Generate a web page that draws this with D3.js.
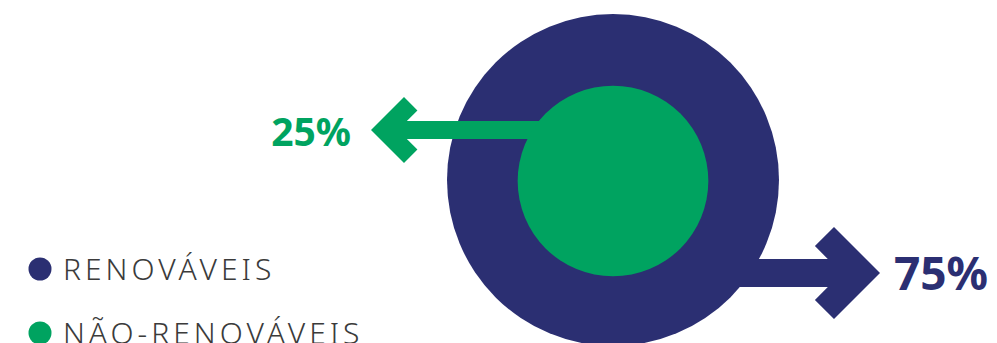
<!DOCTYPE html>
<html>
<head>
<meta charset="utf-8">
<script src="https://cdn.jsdelivr.net/npm/d3@7"></script>
<style>
  body { margin: 0; background: #fff; }
</style>
</head>
<body>
<div id="chart"></div>
<script>
// chart data
var categories = ["RENOVÁVEIS", "NÃO-RENOVÁVEIS"];
var values = [75, 25];
var valueLabels = ["75%", "25%"];
var colors = ["#2b2f72", "#00a360"];

var svgWidth = 997;
var svgHeight = 343;

var svg = d3.select("#chart")
  .append("svg")
  .attr("width", svgWidth)
  .attr("height", svgHeight);

// centre of the nested circles
var cx = 613;
var cy = 180;

// radius from cumulative share (outer = all, inner = non-renewable)
var rScale = d3.scalePow().exponent(0.4)
  .domain([0, d3.sum(values)])
  .range([0, 166]);

// build arrow path: shaft from (x0, y) to tip at (x1, y)
// t = half shaft thickness, h = head size, w = arm width
function arrowPath(x0, x1, y, t, h, w) {
  var dir = x1 > x0 ? -1 : 1; // direction back from tip toward the shaft
  var inner = w * Math.SQRT2 + t;
  var d = w / Math.SQRT2;
  var p = d3.path();
  p.moveTo(x1, y);
  p.lineTo(x1 + dir * h, y - h);
  p.lineTo(x1 + dir * (h + d), y - h + d);
  p.lineTo(x1 + dir * inner, y - t);
  p.lineTo(x0, y - t);
  p.lineTo(x0, y + t);
  p.lineTo(x1 + dir * inner, y + t);
  p.lineTo(x1 + dir * (h + d), y + h - d);
  p.lineTo(x1 + dir * h, y + h);
  p.closePath();
  return p.toString();
}

// outer circle (total)
svg.append("circle")
  .attr("cx", cx)
  .attr("cy", cy)
  .attr("r", rScale(d3.sum(values)))
  .attr("fill", colors[0]);

// navy arrow to the right
svg.append("path")
  .attr("d", arrowPath(cx, 880, 273, 14, 46, 27))
  .attr("fill", colors[0]);

// green arrow to the left
svg.append("path")
  .attr("d", arrowPath(cx, 371, 130, 9, 33, 19))
  .attr("fill", colors[1]);

// inner circle (non-renewable)
svg.append("circle")
  .attr("cx", cx)
  .attr("cy", cy + 1)
  .attr("r", rScale(values[1]))
  .attr("fill", colors[1]);

// percentage labels
svg.append("text")
  .attr("x", 894)
  .attr("y", 290)
  .attr("font-family", "Noto Sans")
  .attr("font-weight", 700)
  .attr("font-size", 46)
  .attr("fill", colors[0])
  .text(valueLabels[0]);

svg.append("text")
  .attr("x", 351)
  .attr("y", 146)
  .attr("text-anchor", "end")
  .attr("font-family", "Noto Sans")
  .attr("font-weight", 700)
  .attr("font-size", 39)
  .attr("fill", colors[1])
  .text(valueLabels[1]);

// legend
var legend = svg.append("g")
  .selectAll("g")
  .data(categories)
  .enter()
  .append("g")
  .attr("transform", (d, i) => `translate(40, ${269 + i * 64})`);

legend.append("circle")
  .attr("r", 11.5)
  .attr("fill", (d, i) => colors[i]);

legend.append("text")
  .attr("x", 23)
  .attr("y", 11)
  .attr("font-family", "Noto Sans")
  .attr("font-weight", 300)
  .attr("font-size", 30)
  .attr("letter-spacing", 4)
  .attr("fill", "#3b3b3b")
  .text(d => d);
</script>
</body>
</html>
